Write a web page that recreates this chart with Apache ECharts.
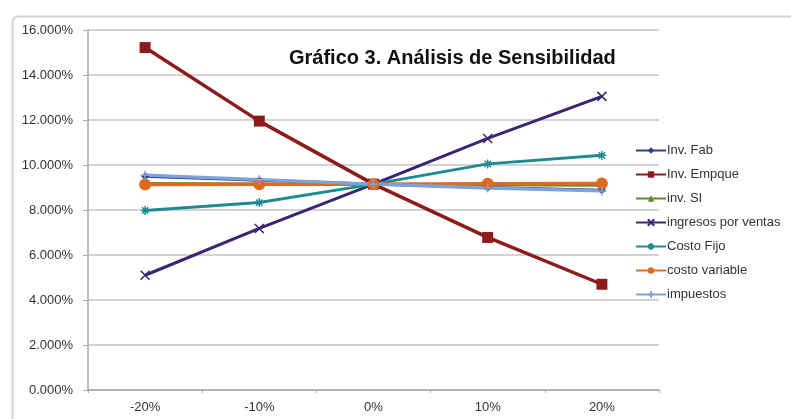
<!DOCTYPE html>
<html>
<head>
<meta charset="utf-8">
<script src="https://cdn.jsdelivr.net/npm/echarts@6/dist/echarts.min.js"></script>
<style>html,body{margin:0;padding:0;background:#fff}#c{width:791px;height:419px}</style>
</head>
<body>
<div id="c"></div>
<script>
const categories = ['-20%', '-10%', '0%', '10%', '20%'];
const invFab = [9.50, 9.32, 9.15, 9.00, 8.88];
const invEmpque = [15.22, 11.95, 9.15, 6.78, 4.70];
const invSI = [9.18, 9.16, 9.15, 9.12, 9.10];
const ingresos = [5.10, 7.18, 9.15, 11.18, 13.05];
const costoFijo = [7.98, 8.33, 9.15, 10.05, 10.43];
const costoVariable = [9.13, 9.14, 9.15, 9.17, 9.18];
const impuestos = [9.55, 9.35, 9.15, 8.98, 8.85];
const yTicks = { min: 0, max: 16, step: 2 };

const X_PATH = 'path://M0,0L10,10M10,0L0,10';
const PLUS_PATH = 'path://M5,0L5,10M0,5L10,5';
const STAR_PATH = 'path://M5,0L5,10M0,5L10,5M1.5,1.5L8.5,8.5M8.5,1.5L1.5,8.5';

function mk(name, data, color, symbol, size, width, stroke) {
  return {
    name, type: 'line', data, symbol, symbolSize: size,
    lineStyle: { color, width },
    itemStyle: stroke ? { color: 'none', borderColor: color, borderWidth: 1.5 } : { color, borderColor: color, borderWidth: 0 },
    emphasis: { disabled: true },
    animation: false
  };
}

const chart = echarts.init(document.getElementById('c'));
chart.setOption({
  animation: false,
  textStyle: { fontFamily: 'Arial, Liberation Sans, sans-serif' },
  title: {
    text: 'Gráfico 3. Análisis de Sensibilidad',
    left: 284, top: 43,
    textStyle: { fontSize: 20, fontWeight: 'bold', color: '#111' }
  },
  graphic: [{
    type: 'rect', left: 10, top: 14, silent: true, z: -1,
    shape: { width: 800, height: 420, r: 6 },
    style: { fill: 'none', stroke: '#d4d4d4', lineWidth: 2 }
  }],
  legend: {
    orient: 'vertical', left: 630, top: 139,
    itemWidth: 30, itemHeight: 8, itemGap: 11,
    textStyle: { fontSize: 13, color: '#333', padding: [0, 0, 0, -4] },
    data: ['Inv. Fab', 'Inv. Empque', 'inv. SI', 'ingresos por ventas', 'Costo Fijo', 'costo variable', 'impuestos']
  },
  grid: { left: 88, right: 132, top: 30, bottom: 29 },
  xAxis: {
    type: 'category', data: categories, boundaryGap: true,
    axisLine: { lineStyle: { color: '#a8a8a8', width: 1.5 } },
    axisTick: { show: true, length: 3, lineStyle: { color: '#a8a8a8' } },
    axisLabel: { fontSize: 13, color: '#333', margin: 11 }
  },
  yAxis: {
    type: 'value', min: yTicks.min, max: yTicks.max, interval: yTicks.step,
    axisLine: { show: true, lineStyle: { color: '#a8a8a8', width: 1.5 } },
    axisTick: { show: true, length: 5, lineStyle: { color: '#a8a8a8' } },
    axisLabel: { fontSize: 13, color: '#333', margin: 15, formatter: v => v.toFixed(3) + '%' },
    splitLine: { lineStyle: { color: '#c4c4c4', width: 1.5 } }
  },
  series: [
    mk('Inv. Fab', invFab, '#2B3F8F', 'diamond', 8, 3),
    mk('Inv. Empque', invEmpque, '#8E1B1B', 'rect', 11, 3.5),
    mk('inv. SI', invSI, '#5A8A2A', 'triangle', 8, 3),
    mk('ingresos por ventas', ingresos, '#3B2570', X_PATH, 9, 3, true),
    mk('Costo Fijo', costoFijo, '#1F8A92', STAR_PATH, 9, 3, true),
    mk('costo variable', costoVariable, '#DD6A1E', 'circle', 12, 3.5),
    mk('impuestos', impuestos, '#7FA2DA', PLUS_PATH, 9, 3.5, true)
  ]
});
</script>
</body>
</html>
